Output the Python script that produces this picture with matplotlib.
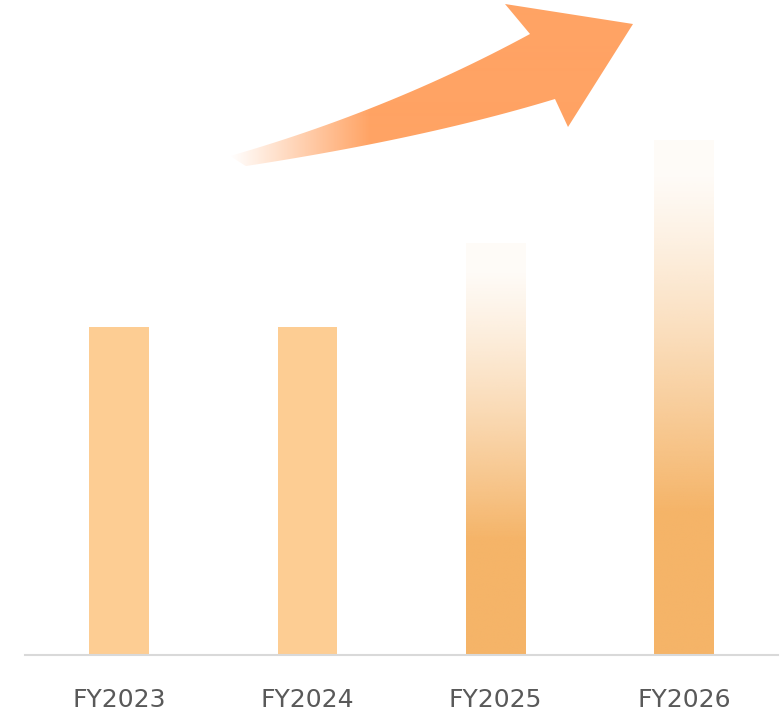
#Libraries
import numpy as np
import matplotlib
matplotlib.use("Agg")
import matplotlib.pyplot as plt
from matplotlib.path import Path
from matplotlib.patches import PathPatch

#Chart data
years = ["FY2023", "FY2024", "FY2025", "FY2026"]
values = [3.18, 3.18, 4.0, 5.0]
faded = [False, False, True, True]   #bars drawn with a fade to the top

solid_color = "#FDCD93"
fade_color = "#F5B468"
arrow_color = "#FFA364"

fig = plt.figure(figsize=(7.81, 7.15), dpi=100)
ax = fig.add_axes([25 / 781, 60 / 715, 753 / 781, 655 / 715])
ax.set_xlim(-0.5, 3.5)
ax.set_ylim(0, max(values) * 655 / 515)

x = np.arange(len(years))
bars = ax.bar(x, values, width=0.315, color=solid_color, linewidth=0)

#Gradient bars: image clipped to the bar rectangle
for bar, fade in zip(bars, faded):
    if not fade:
        continue
    bar.set_facecolor("none")
    n = 256
    t = np.linspace(0, 1, n)                      #0 = bottom, 1 = top
    alpha = np.where(t < 0.28, 1.0, np.clip((1 - t) / 0.72, 0, 1) ** 1.25)
    alpha = np.clip(alpha, 0.05, 1.0)
    img = np.zeros((n, 1, 4))
    img[:, 0, :3] = matplotlib.colors.to_rgb(fade_color)
    img[:, 0, 3] = alpha
    x0, w, h = bar.get_x(), bar.get_width(), bar.get_height()
    im = ax.imshow(img, extent=[x0, x0 + w, 0, h], origin="lower",
                   aspect="auto", interpolation="bilinear", zorder=2)
    im.set_clip_path(bar)

ax.set_xticks(x)
ax.set_xticklabels(years, fontsize=18, color="#595959")
ax.tick_params(axis="x", length=0, pad=24)
ax.set_yticks([])
for side in ["top", "left", "right"]:
    ax.spines[side].set_visible(False)
ax.spines["bottom"].set_color("#D9D9D9")
ax.spines["bottom"].set_linewidth(1.5)

#Decorative rising arrow (figure pixel coords, top-left origin)
over = fig.add_axes([0, 0, 1, 1], zorder=5)
over.set_xlim(0, 781)
over.set_ylim(715, 0)
over.axis("off")
over.patch.set_alpha(0)

def bez(p0, c, p2, k=30):
    s = np.linspace(0, 1, k)[:, None]
    return (1 - s) ** 2 * np.array(p0) + 2 * (1 - s) * s * np.array(c) + s ** 2 * np.array(p2)

upper = bez((230, 156), (390, 110), (530, 34))
lower = bez((233, 168), (420, 140), (555, 99))
head = np.array([(530, 34), (505, 4), (633, 24), (568, 127), (555, 99)])
pts = np.vstack([upper, head, lower[::-1]])
arrow = PathPatch(Path(pts, closed=True), facecolor="none", edgecolor="none")
over.add_patch(arrow)

xs = np.linspace(0, 781, 781)
a = np.clip((xs - 230) / 140, 0, 1)
grad = np.zeros((1, len(xs), 4))
grad[0, :, :3] = matplotlib.colors.to_rgb(arrow_color)
grad[0, :, 3] = a
im = over.imshow(grad, extent=[0, 781, 715, 0], aspect="auto",
                 interpolation="bilinear")
im.set_clip_path(arrow)

plt.savefig("out.png", dpi=100)
